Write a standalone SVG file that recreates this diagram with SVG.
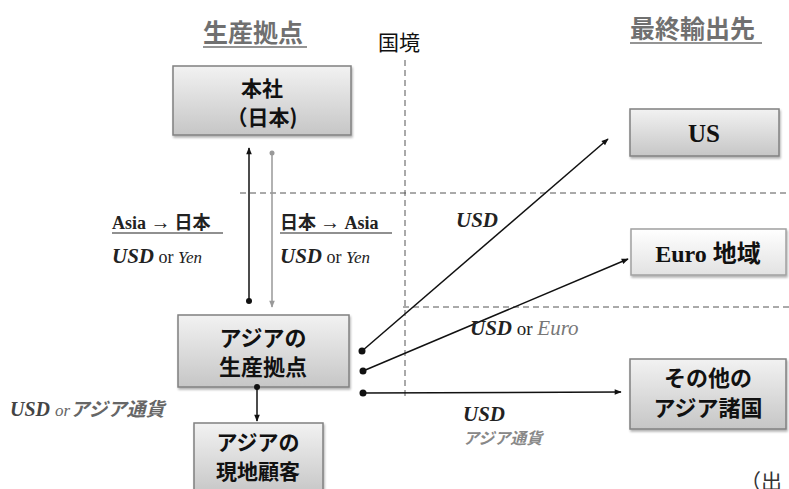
<svg xmlns="http://www.w3.org/2000/svg" width="789" height="489" viewBox="0 0 789 489">
<style>
.box{stroke:#808080;stroke-width:1.5;fill:url(#g1)}
.boxl{stroke:#a0a0a0;stroke-width:1.5;fill:url(#g2)}
.jp{font-family:"Noto Sans CJK JP","Noto Sans",sans-serif;font-weight:bold;fill:#111}
.jpf{font-family:"Noto Sans CJK JP","Noto Sans",sans-serif}
.ser{font-family:"Liberation Serif",serif}
.dash{stroke:#555;stroke-width:1;stroke-dasharray:6,4;fill:none}
.ln{stroke:#111;stroke-width:1.5;fill:none}
.dot{fill:#111}
.title{font-family:"Noto Sans CJK JP",sans-serif;font-weight:bold;fill:#707070;font-size:25px}
</style>
<defs>
<linearGradient id="g1" x1="0" y1="0" x2="0" y2="1"><stop offset="0" stop-color="#f2f2f2"/><stop offset="1" stop-color="#c6c6c6"/></linearGradient>
<linearGradient id="g2" x1="0" y1="0" x2="0" y2="1"><stop offset="0" stop-color="#ffffff"/><stop offset="1" stop-color="#e2e2e2"/></linearGradient>
<filter id="sh" x="-10%" y="-10%" width="120%" height="130%"><feDropShadow dx="1" dy="2" stdDeviation="1.2" flood-color="#000" flood-opacity="0.3"/></filter>
<marker id="ah" viewBox="0 0 10 10" refX="9" refY="5" markerWidth="8" markerHeight="7" orient="auto" markerUnits="userSpaceOnUse"><path d="M0,1 L10,5 L0,9 z" fill="#111"/></marker>
<marker id="ahg" viewBox="0 0 10 10" refX="9" refY="5" markerWidth="8" markerHeight="7" orient="auto" markerUnits="userSpaceOnUse"><path d="M0,1 L10,5 L0,9 z" fill="#999"/></marker>
</defs>
<rect width="789" height="489" fill="#fff"/>

<g id="titles">
<text class="title" x="203" y="42">生産拠点</text>
<line x1="203" y1="47" x2="307" y2="47" stroke="#707070" stroke-width="1.5"/>
<text class="title" x="630" y="38">最終輸出先</text>
<line x1="630" y1="43" x2="762" y2="43" stroke="#707070" stroke-width="1.5"/>
<text class="jpf" x="378" y="50" font-size="21" fill="#111">国境</text>
</g>

<g id="borders">
<line class="dash" x1="405" y1="60" x2="405" y2="398"/>
<line class="dash" x1="240" y1="193" x2="789" y2="193"/>
<line class="dash" x1="403" y1="307" x2="789" y2="307"/>
</g>

<g id="honsha">
<rect class="box" x="173" y="66" width="178" height="69" filter="url(#sh)"/>
<text class="jp" x="262" y="96" font-size="21" text-anchor="middle">本社</text>
<text class="jp" x="262" y="125" font-size="21" text-anchor="middle">（日本)</text>
</g>

<g id="asia-base">
<rect class="box" x="178" y="315" width="171" height="72" filter="url(#sh)"/>
<text class="jp" x="263" y="346" font-size="22" text-anchor="middle">アジアの</text>
<text class="jp" x="263" y="375" font-size="22" text-anchor="middle">生産拠点</text>
</g>

<g id="local-customer">
<rect class="box" x="194" y="423" width="129" height="72" filter="url(#sh)"/>
<text class="jp" x="258" y="450" font-size="21" text-anchor="middle">アジアの</text>
<text class="jp" x="258" y="479" font-size="21" text-anchor="middle">現地顧客</text>
</g>

<g id="us">
<rect class="box" x="630" y="109" width="149" height="47" filter="url(#sh)"/>
<text class="ser" x="704" y="142" font-size="25" font-weight="bold" fill="#111" text-anchor="middle">US</text>
</g>

<g id="euro">
<rect class="boxl" x="631" y="229" width="155" height="46" filter="url(#sh)"/>
<text x="708" y="262" text-anchor="middle" font-size="24" font-weight="bold" fill="#111"><tspan class="ser">Euro </tspan><tspan class="jpf">地域</tspan></text>
</g>

<g id="other-asia">
<rect class="box" x="630" y="359" width="156" height="70" filter="url(#sh)"/>
<text class="jp" x="708" y="386" font-size="22" text-anchor="middle">その他の</text>
<text class="jp" x="708" y="416" font-size="22" text-anchor="middle">アジア諸国</text>
</g>

<g id="connectors">
<line class="ln" x1="249" y1="301" x2="249" y2="148" marker-end="url(#ah)"/>
<circle class="dot" cx="249" cy="301" r="3"/>
<line x1="272" y1="153" x2="272" y2="307" stroke="#999" stroke-width="1.5" marker-end="url(#ahg)"/>
<circle cx="272" cy="153" r="2.5" fill="#999"/>
<line class="ln" x1="257" y1="387" x2="257" y2="421" marker-end="url(#ah)"/>
<circle class="dot" cx="257" cy="387" r="3"/>
<line class="ln" x1="362" y1="351" x2="608" y2="139" marker-end="url(#ah)"/>
<circle class="dot" cx="362" cy="351" r="3.5"/>
<line class="ln" x1="363" y1="371" x2="628" y2="259" marker-end="url(#ah)"/>
<circle class="dot" cx="363" cy="371" r="3.5"/>
<line class="ln" x1="363" y1="393" x2="621" y2="392" marker-end="url(#ah)"/>
<circle class="dot" cx="363" cy="393" r="3.5"/>
</g>

<g id="labels">
<text x="112" y="229" font-size="18" font-weight="bold" fill="#222"><tspan class="ser">Asia </tspan><tspan class="ser" font-size="20">→</tspan><tspan class="jpf"> 日本</tspan></text>
<line x1="112" y1="233" x2="223" y2="233" stroke="#222" stroke-width="1.2"/>
<text class="ser" x="112" y="263" fill="#222"><tspan font-size="21" font-weight="bold" font-style="italic">USD</tspan><tspan font-size="18"> or </tspan><tspan font-size="17" font-style="italic">Yen</tspan></text>

<text x="280" y="229" font-size="18" font-weight="bold" fill="#222"><tspan class="jpf">日本 </tspan><tspan class="ser" font-size="20">→</tspan><tspan class="ser"> Asia</tspan></text>
<line x1="280" y1="233" x2="392" y2="233" stroke="#222" stroke-width="1.2"/>
<text class="ser" x="280" y="263" fill="#222"><tspan font-size="21" font-weight="bold" font-style="italic">USD</tspan><tspan font-size="18"> or </tspan><tspan font-size="17" font-style="italic">Yen</tspan></text>

<text class="ser" x="456" y="227" font-size="21" font-weight="bold" font-style="italic" fill="#222">USD</text>

<text class="ser" x="470" y="335" fill="#222"><tspan font-size="21" font-weight="bold" font-style="italic">USD</tspan><tspan font-size="19"> or </tspan><tspan font-size="21" font-style="italic" fill="#777">Euro</tspan></text>

<text class="ser" x="463" y="421" font-size="21" font-weight="bold" font-style="italic" fill="#222">USD</text>
<text class="jpf" x="463" y="444" font-size="16" font-style="italic" fill="#888" font-weight="bold">アジア通貨</text>

<text x="10" y="416" fill="#444"><tspan class="ser" font-size="20" font-weight="bold" font-style="italic">USD </tspan><tspan class="ser" font-size="17" font-style="italic" fill="#666">or</tspan><tspan class="jpf" font-size="19" font-style="italic" font-weight="bold" fill="#666">アジア通貨</tspan></text>

<text class="jpf" x="740" y="489" font-size="21" fill="#333">（出</text>
</g>
</svg>
